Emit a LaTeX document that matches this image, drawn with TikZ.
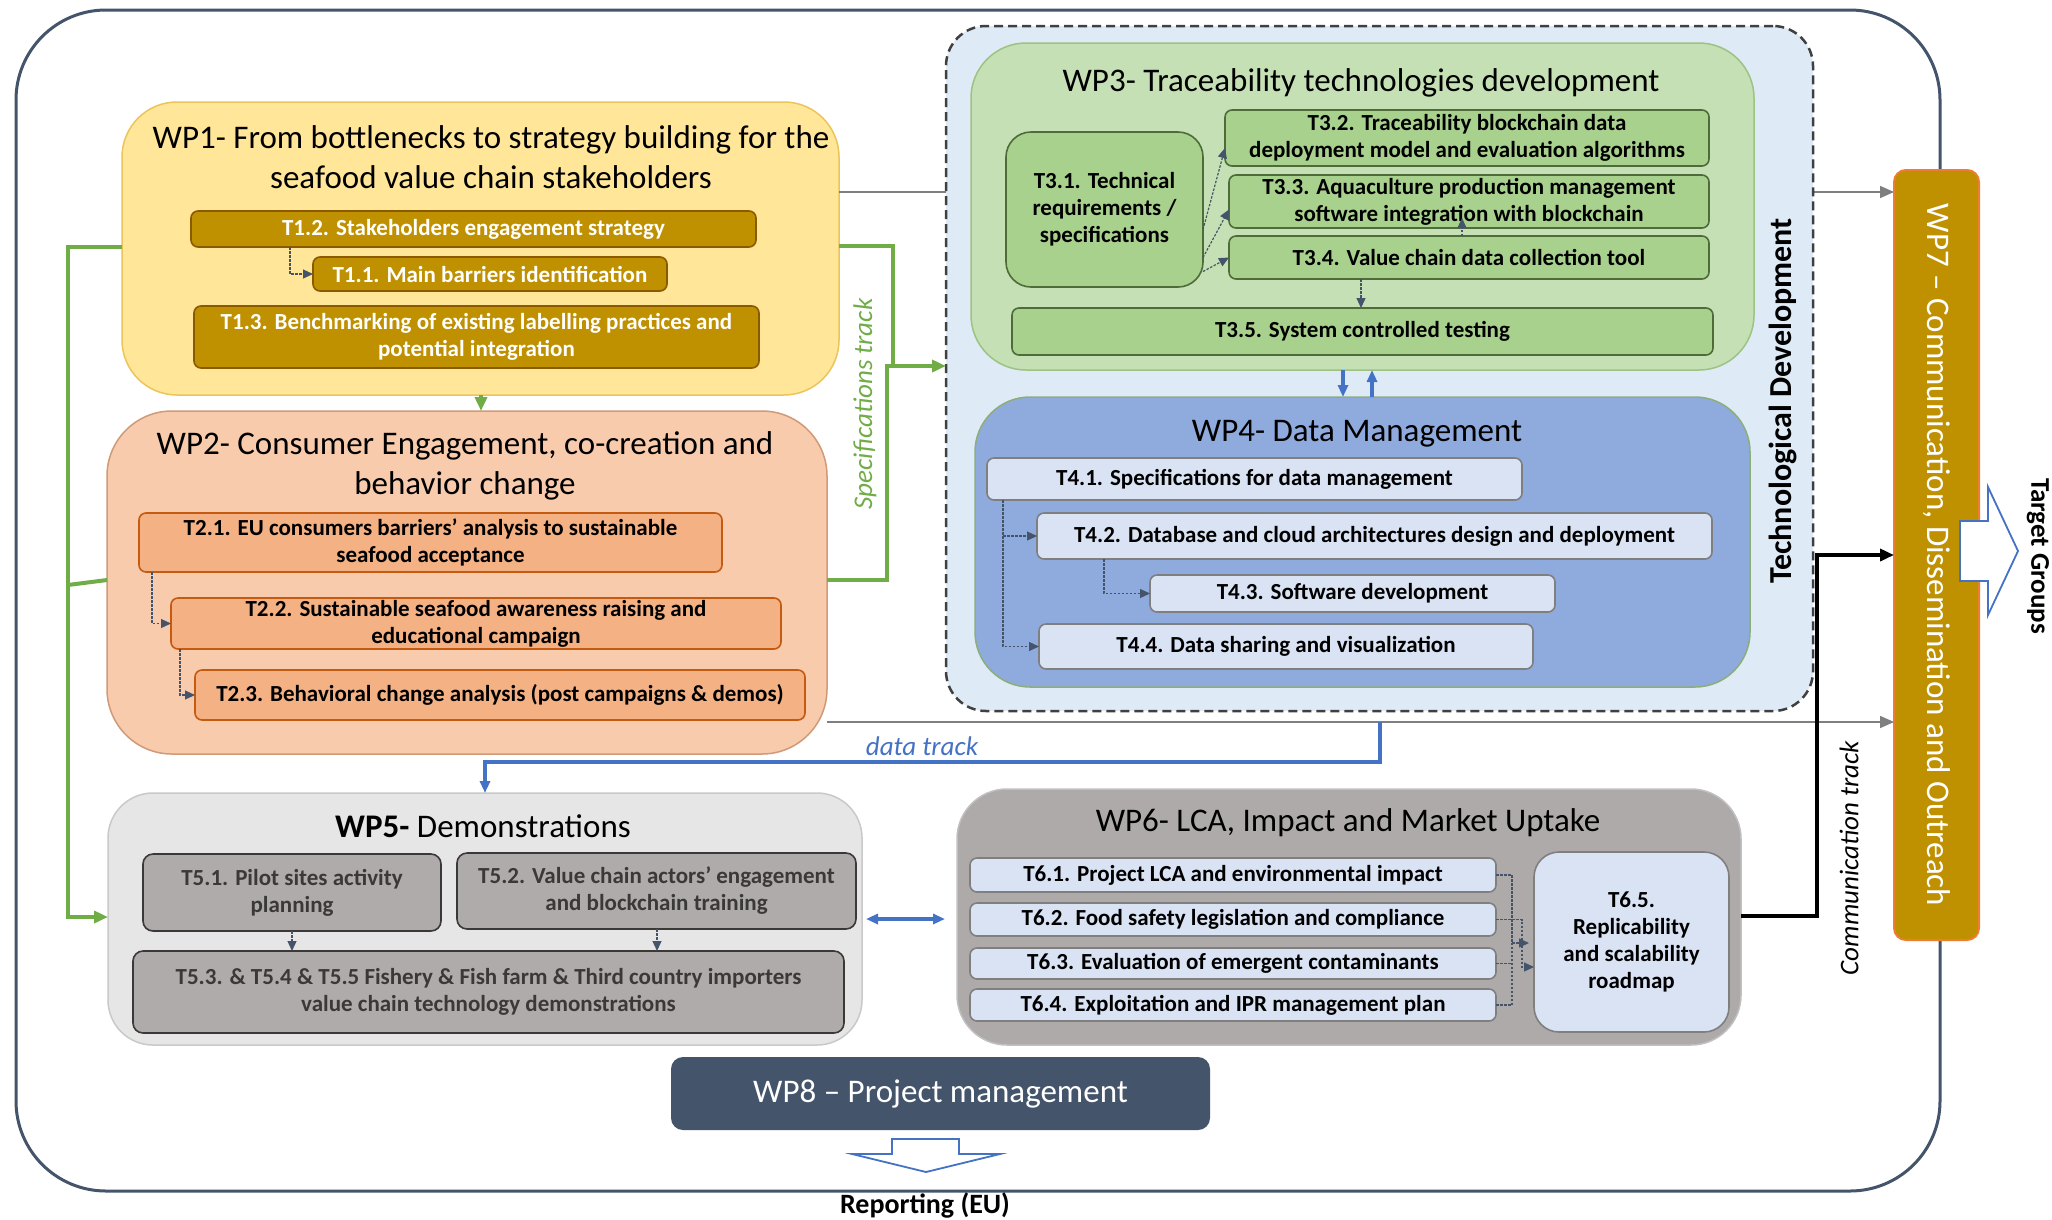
\documentclass[tikz,border=0pt]{standalone}
\usepackage{fontspec}
\setmainfont{Carlito}
\usetikzlibrary{arrows.meta}
\definecolor{outerc}{HTML}{44546A}
\definecolor{techfill}{HTML}{DEEBF7}
\definecolor{techdraw}{HTML}{404040}
\definecolor{wpthreefill}{HTML}{C5E0B4}
\definecolor{wpthreedraw}{HTML}{9DC383}
\definecolor{tthreefill}{HTML}{A9D18E}
\definecolor{tthreedraw}{HTML}{4E6B3A}
\definecolor{wpfourfill}{HTML}{8FAADC}
\definecolor{wpfourdraw}{HTML}{8CAE7A}
\definecolor{lightblue}{HTML}{DAE3F3}
\definecolor{midgray}{HTML}{7F7F7F}
\definecolor{wponefill}{HTML}{FFE699}
\definecolor{wponedraw}{HTML}{EBC55A}
\definecolor{gold}{HTML}{BF9000}
\definecolor{tonedraw}{HTML}{8B5A00}
\definecolor{wptwofill}{HTML}{F8CBAD}
\definecolor{wptwodraw}{HTML}{D09A78}
\definecolor{ttwofill}{HTML}{F4B183}
\definecolor{ttwodraw}{HTML}{C55A11}
\definecolor{wpfivefill}{HTML}{E7E6E6}
\definecolor{wpfivedraw}{HTML}{C9C9C9}
\definecolor{tfivefill}{HTML}{AFABAB}
\definecolor{tfivedraw}{HTML}{3B3838}
\definecolor{wpsixfill}{HTML}{AEAAAA}
\definecolor{wpsixdraw}{HTML}{C0C0C0}
\definecolor{orangec}{HTML}{ED7D31}
\definecolor{greenc}{HTML}{70AD47}
\definecolor{bluec}{HTML}{4472C4}
\newcommand\TitleFont{\fontsize{33}{40}\selectfont}
\newcommand\TaskFont{\fontsize{23}{27}\selectfont\bfseries}
\begin{document}
\begin{tikzpicture}[x=1pt,y=-1pt,
  every node/.style={outer sep=0pt},
  wpbox/.style={draw, line width=1.5pt, inner sep=0pt},
  taskbox/.style={draw, line width=1.6pt, rounded corners=7pt, inner sep=1pt, align=center, font=\TaskFont},
  title/.style={font=\TitleFont, align=center, inner sep=0pt},
  tarrow/.style={draw=outerc, line width=1.2pt, dash pattern=on 2.5pt off 1.5pt, -{Triangle[length=10pt,width=9pt]}},
  garrow/.style={draw=greenc, line width=4pt},
  barrow/.style={draw=bluec, line width=3.5pt},
  graytrack/.style={draw=midgray, line width=1.5pt},
  tip/.style={-{Triangle[length=14pt,width=12pt]}},
  smalltip/.style={-{Triangle[length=12pt,width=10pt]}},
  label/.style={inner sep=0pt, font=\fontsize{27}{30}\selectfont\itshape}
]
\useasboundingbox (0,0) rectangle (2052,1219);
\fill[white] (0,0) rectangle (2052,1219);

% outer frame
\node[draw=outerc, line width=3pt, rounded corners=90pt, minimum width=1924pt, minimum height=1181pt] (frame) at (978,600.5) {};

% ---------------- WP1
\node[wpbox, fill=wponefill, draw=wponedraw, rounded corners=55pt, minimum width=717pt, minimum height=293pt] (wp1) at (480.5,248.5) {};
\node[title] (wp1t) at (491,157) {WP1- From bottlenecks to strategy building for the\\seafood value chain stakeholders};
\node[taskbox, fill=gold, draw=tonedraw, text=white, minimum width=565pt, minimum height=36pt] (t12) at (473.5,229) {T1.2. Stakeholders engagement strategy};
\node[taskbox, fill=gold, draw=tonedraw, text=white, minimum width=354pt, minimum height=34pt] (t11) at (490,274) {T1.1. Main barriers identification};
\node[taskbox, fill=gold, draw=tonedraw, text=white, minimum width=565pt, minimum height=62pt] (t13) at (476.5,337) {T1.3. Benchmarking of existing labelling practices and\\potential integration};
\draw[tarrow] (290,0 |- t12.south) |- (t11.west);

% ---------------- WP2
\node[wpbox, fill=wptwofill, draw=wptwodraw, rounded corners=65pt, minimum width=720pt, minimum height=343pt] (wp2) at (467,582.5) {};
\node[title] (wp2t) at (465,466) {WP2- Consumer Engagement, co-creation and\\behavior change};
\node[taskbox, fill=ttwofill, draw=ttwodraw, minimum width=583pt, minimum height=59pt] (t21) at (430.5,542.5) {T2.1. EU consumers barriers’ analysis to sustainable\\seafood acceptance};
\node[taskbox, fill=ttwofill, draw=ttwodraw, minimum width=610pt, minimum height=51pt] (t22) at (476,623.5) {T2.2. Sustainable seafood awareness raising and\\educational campaign};
\node[taskbox, fill=ttwofill, draw=ttwodraw, minimum width=610pt, minimum height=50pt] (t23) at (500,695) {T2.3. Behavioral change analysis (post campaigns \& demos)};
\draw[tarrow] (152,0 |- t21.south) |- (t22.west);
\draw[tarrow] (180,0 |- t22.south) |- (t23.west);

% ---------------- WP7
\node[wpbox, fill=gold, draw=orangec, line width=2pt, rounded corners=12pt, minimum width=85pt, minimum height=770pt] (wp7) at (1936.5,555) {};
\node[rotate=-90, text=white, font=\fontsize{33}{35}\selectfont, inner sep=0pt] (wp7t) at (1937,555) {WP7 – Communication, Dissemination and Outreach};

% thin gray tracks
\draw[graytrack, tip] (wp1.east |- 0,192) -- (wp7.west |- 0,192);
\draw[graytrack, tip] (wp2.east |- 0,722) -- (wp7.west |- 0,722);
\coordinate (dt) at (1380,722);

% ---------------- Technological development
\node[draw=techdraw, dash pattern=on 9pt off 5pt, line width=2.5pt, fill=techfill, rounded corners=40pt, minimum width=867pt, minimum height=685pt] (tech) at (1379.5,368.5) {};
\node[rotate=90, font=\fontsize{32}{34}\selectfont\bfseries, inner sep=0pt] (techt) at (1783,401) {Technological Development};

% ---------------- WP3
\node[wpbox, fill=wpthreefill, draw=wpthreedraw, rounded corners=55pt, minimum width=783pt, minimum height=327pt] (wp3) at (1362.5,206.5) {};
\node[title] (wp3t) at (1361,83) {WP3- Traceability technologies development};
\node[taskbox, fill=tthreefill, draw=tthreedraw, rounded corners=25pt, minimum width=197pt, minimum height=155pt] (t31) at (1104.5,209.5) {T3.1. Technical\\requirements /\\specifications};
\node[taskbox, fill=tthreefill, draw=tthreedraw, minimum width=484pt, minimum height=56pt] (t32) at (1467,138) {T3.2. Traceability blockchain data\\deployment model and evaluation algorithms};
\node[taskbox, fill=tthreefill, draw=tthreedraw, minimum width=480pt, minimum height=53pt] (t33) at (1469,201.5) {T3.3. Aquaculture production management\\software integration with blockchain};
\node[taskbox, fill=tthreefill, draw=tthreedraw, minimum width=480pt, minimum height=43pt] (t34) at (1469,257.5) {T3.4. Value chain data collection tool};
\node[taskbox, fill=tthreefill, draw=tthreedraw, minimum width=701pt, minimum height=47pt] (t35) at (1362.5,331.5) {T3.5. System controlled testing};
\draw[tarrow] ([shift={(0,20)}]t31.east) -- ([shift={(0,10)}]t32.west);
\draw[tarrow] ([shift={(0,48)}]t31.east) -- ([shift={(0,8)}]t33.west);
\draw[tarrow] ([shift={(0,62)}]t31.east) -- (t34.west);
\draw[tarrow] (1361,0 |- t34.south) -- (1361,0 |- t35.north);
\coordinate (t33in) at (1462,218);
\draw[tarrow] (1462,0 |- t34.north) -- (t33in);

% ---------------- WP4
\node[wpbox, fill=wpfourfill, draw=wpfourdraw, rounded corners=55pt, minimum width=775pt, minimum height=290pt] (wp4) at (1362.5,542) {};
\node[title] (wp4t) at (1357,434) {WP4- Data Management};
\node[taskbox, fill=lightblue, draw=midgray, minimum width=535pt, minimum height=42pt] (t41) at (1254.5,479) {T4.1. Specifications for data management};
\node[taskbox, fill=lightblue, draw=midgray, minimum width=675pt, minimum height=46pt] (t42) at (1374.5,536) {T4.2. Database and cloud architectures design and deployment};
\node[taskbox, fill=lightblue, draw=midgray, minimum width=405pt, minimum height=37pt] (t43) at (1352.5,593.5) {T4.3. Software development};
\node[taskbox, fill=lightblue, draw=midgray, minimum width=494pt, minimum height=45pt] (t44) at (1286,646.5) {T4.4. Data sharing and visualization};
\draw[tarrow] (1003,0 |- t41.south) |- (t42.west);
\draw[tarrow] (1003,0 |- t41.south) |- (t44.west);
\draw[tarrow] (1104,0 |- t42.south) |- (t43.west);

% WP3 <-> WP4
\draw[barrow, smalltip] (1343,0 |- wp3.south) -- (1343,0 |- wp4.north);
\draw[barrow, smalltip] (1372,0 |- wp4.north) -- (1372,0 |- wp3.south);

% ---------------- green specification track
\draw[garrow, tip] (481,0 |- wp1.south) -- (481,0 |- wp2.north);
\draw[garrow] (wp2.west |- 0,580) -- (68,585);
\draw[garrow] (wp1.east |- 0,246) -- (893,246) -- (893,366);
\draw[garrow, tip] (wp2.east |- 0,580) -- (887,580) -- (887,366) -- (tech.west |- 0,366);
\node[label, rotate=90, text=greenc] (spec) at (865,404) {Specifications track};

% ---------------- WP5
\node[wpbox, fill=wpfivefill, draw=wpfivedraw, rounded corners=45pt, minimum width=754pt, minimum height=252pt] (wp5) at (485,919) {};
\draw[garrow, tip] (wp1.west |- 0,247) -- (68,247) -- (68,917) -- (wp5.west |- 0,917);
\node[title] (wp5t) at (483,826) {\textbf{WP5-} Demonstrations};
\node[taskbox, fill=tfivefill, draw=tfivedraw, text=tfivedraw, rounded corners=10pt, minimum width=298pt, minimum height=77pt] (t51) at (292,892.5) {T5.1. Pilot sites activity\\planning};
\node[taskbox, fill=tfivefill, draw=tfivedraw, text=tfivedraw, rounded corners=10pt, minimum width=399pt, minimum height=76pt] (t52) at (656.5,891) {T5.2. Value chain actors’ engagement\\and blockchain training};
\node[taskbox, fill=tfivefill, draw=tfivedraw, text=tfivedraw, rounded corners=10pt, minimum width=711pt, minimum height=82pt] (t53) at (488.5,992) {T5.3. \& T5.4 \& T5.5 Fishery \& Fish farm \& Third country importers\\value chain technology demonstrations};
\draw[tarrow] (t51.south) -- (t51.south |- t53.north);
\draw[tarrow] (657,0 |- t52.south) -- (657,0 |- t53.north);

% data track
\draw[barrow, smalltip] (dt) -- (1380,762) -| (wp5.north);
\node[label, text=bluec] (datat) at (922,746) {data track};

% ---------------- WP6
\node[wpbox, fill=wpsixfill, draw=wpsixdraw, rounded corners=50pt, minimum width=784pt, minimum height=256pt] (wp6) at (1349,917) {};
\node[title] (wp6t) at (1348,823) {WP6- LCA, Impact and Market Uptake};
\node[taskbox, fill=lightblue, draw=midgray, minimum width=526pt, minimum height=34pt] (t61) at (1233,875) {T6.1. Project LCA and environmental impact};
\node[taskbox, fill=lightblue, draw=midgray, minimum width=526pt, minimum height=33pt] (t62) at (1233,919.5) {T6.2. Food safety legislation and compliance};
\node[taskbox, fill=lightblue, draw=midgray, minimum width=526pt, minimum height=31pt] (t63) at (1233,963.5) {T6.3. Evaluation of emergent contaminants};
\node[taskbox, fill=lightblue, draw=midgray, minimum width=526pt, minimum height=32pt] (t64) at (1233,1005) {T6.4. Exploitation and IPR management plan};
\node[taskbox, fill=lightblue, draw=midgray, rounded corners=25pt, minimum width=195pt, minimum height=180pt] (t65) at (1631.5,942) {T6.5.\\Replicability\\and scalability\\roadmap};
\draw[tarrow] (t61.east) -- (1512,875) -- (1512,943) -- (1529,943);
\draw[tarrow] (t62.east) -- (1522,919.5) -- (1522,967) -- (t65.west |- 0,967);
\draw[tarrow, -] (t63.east) -- (1512,963.5);
\draw[tarrow, -] (t64.east) -- (1512,1005) -- (1512,943);

% WP5 <-> WP6
\draw[barrow, {Triangle[length=12pt,width=10pt]}-{Triangle[length=12pt,width=10pt]}, shorten <=4pt, shorten >=12pt] (wp5.east) -- (wp5.east -| wp6.west);

% communication track
\draw[line width=4pt, tip] (wp6.east |- 0,916) -- (1817,916) -- (1817,555) -- (wp7.west |- 0,555);
\node[label, rotate=90] (commt) at (1849,858) {Communication track};

% target groups
\draw[draw=bluec, line width=1.8pt, fill=white] (1960,521) -- (1988,521) -- (1988,487) -- (2018,551) -- (1988,615) -- (1988,581) -- (1960,581) -- cycle;
\node[rotate=-90, font=\fontsize{27}{29}\selectfont\bfseries, inner sep=0pt] (tg) at (2038,556) {Target Groups};

% ---------------- WP8
\node[fill=outerc, rounded corners=12pt, minimum width=539pt, minimum height=73pt, text=white, font=\fontsize{33}{35}\selectfont] (wp8) at (940.5,1093.5) {WP8 – Project management};
\draw[draw=bluec, line width=1.8pt, fill=white] (892,1139) -- (959,1139) -- (959,1154) -- (1000,1154) -- (926,1172) -- (852,1154) -- (892,1154) -- cycle;
\node[font=\fontsize{28}{30}\selectfont\bfseries, inner sep=0pt] (rep) at (925,1205) {Reporting (EU)};
\end{tikzpicture}
\end{document}
